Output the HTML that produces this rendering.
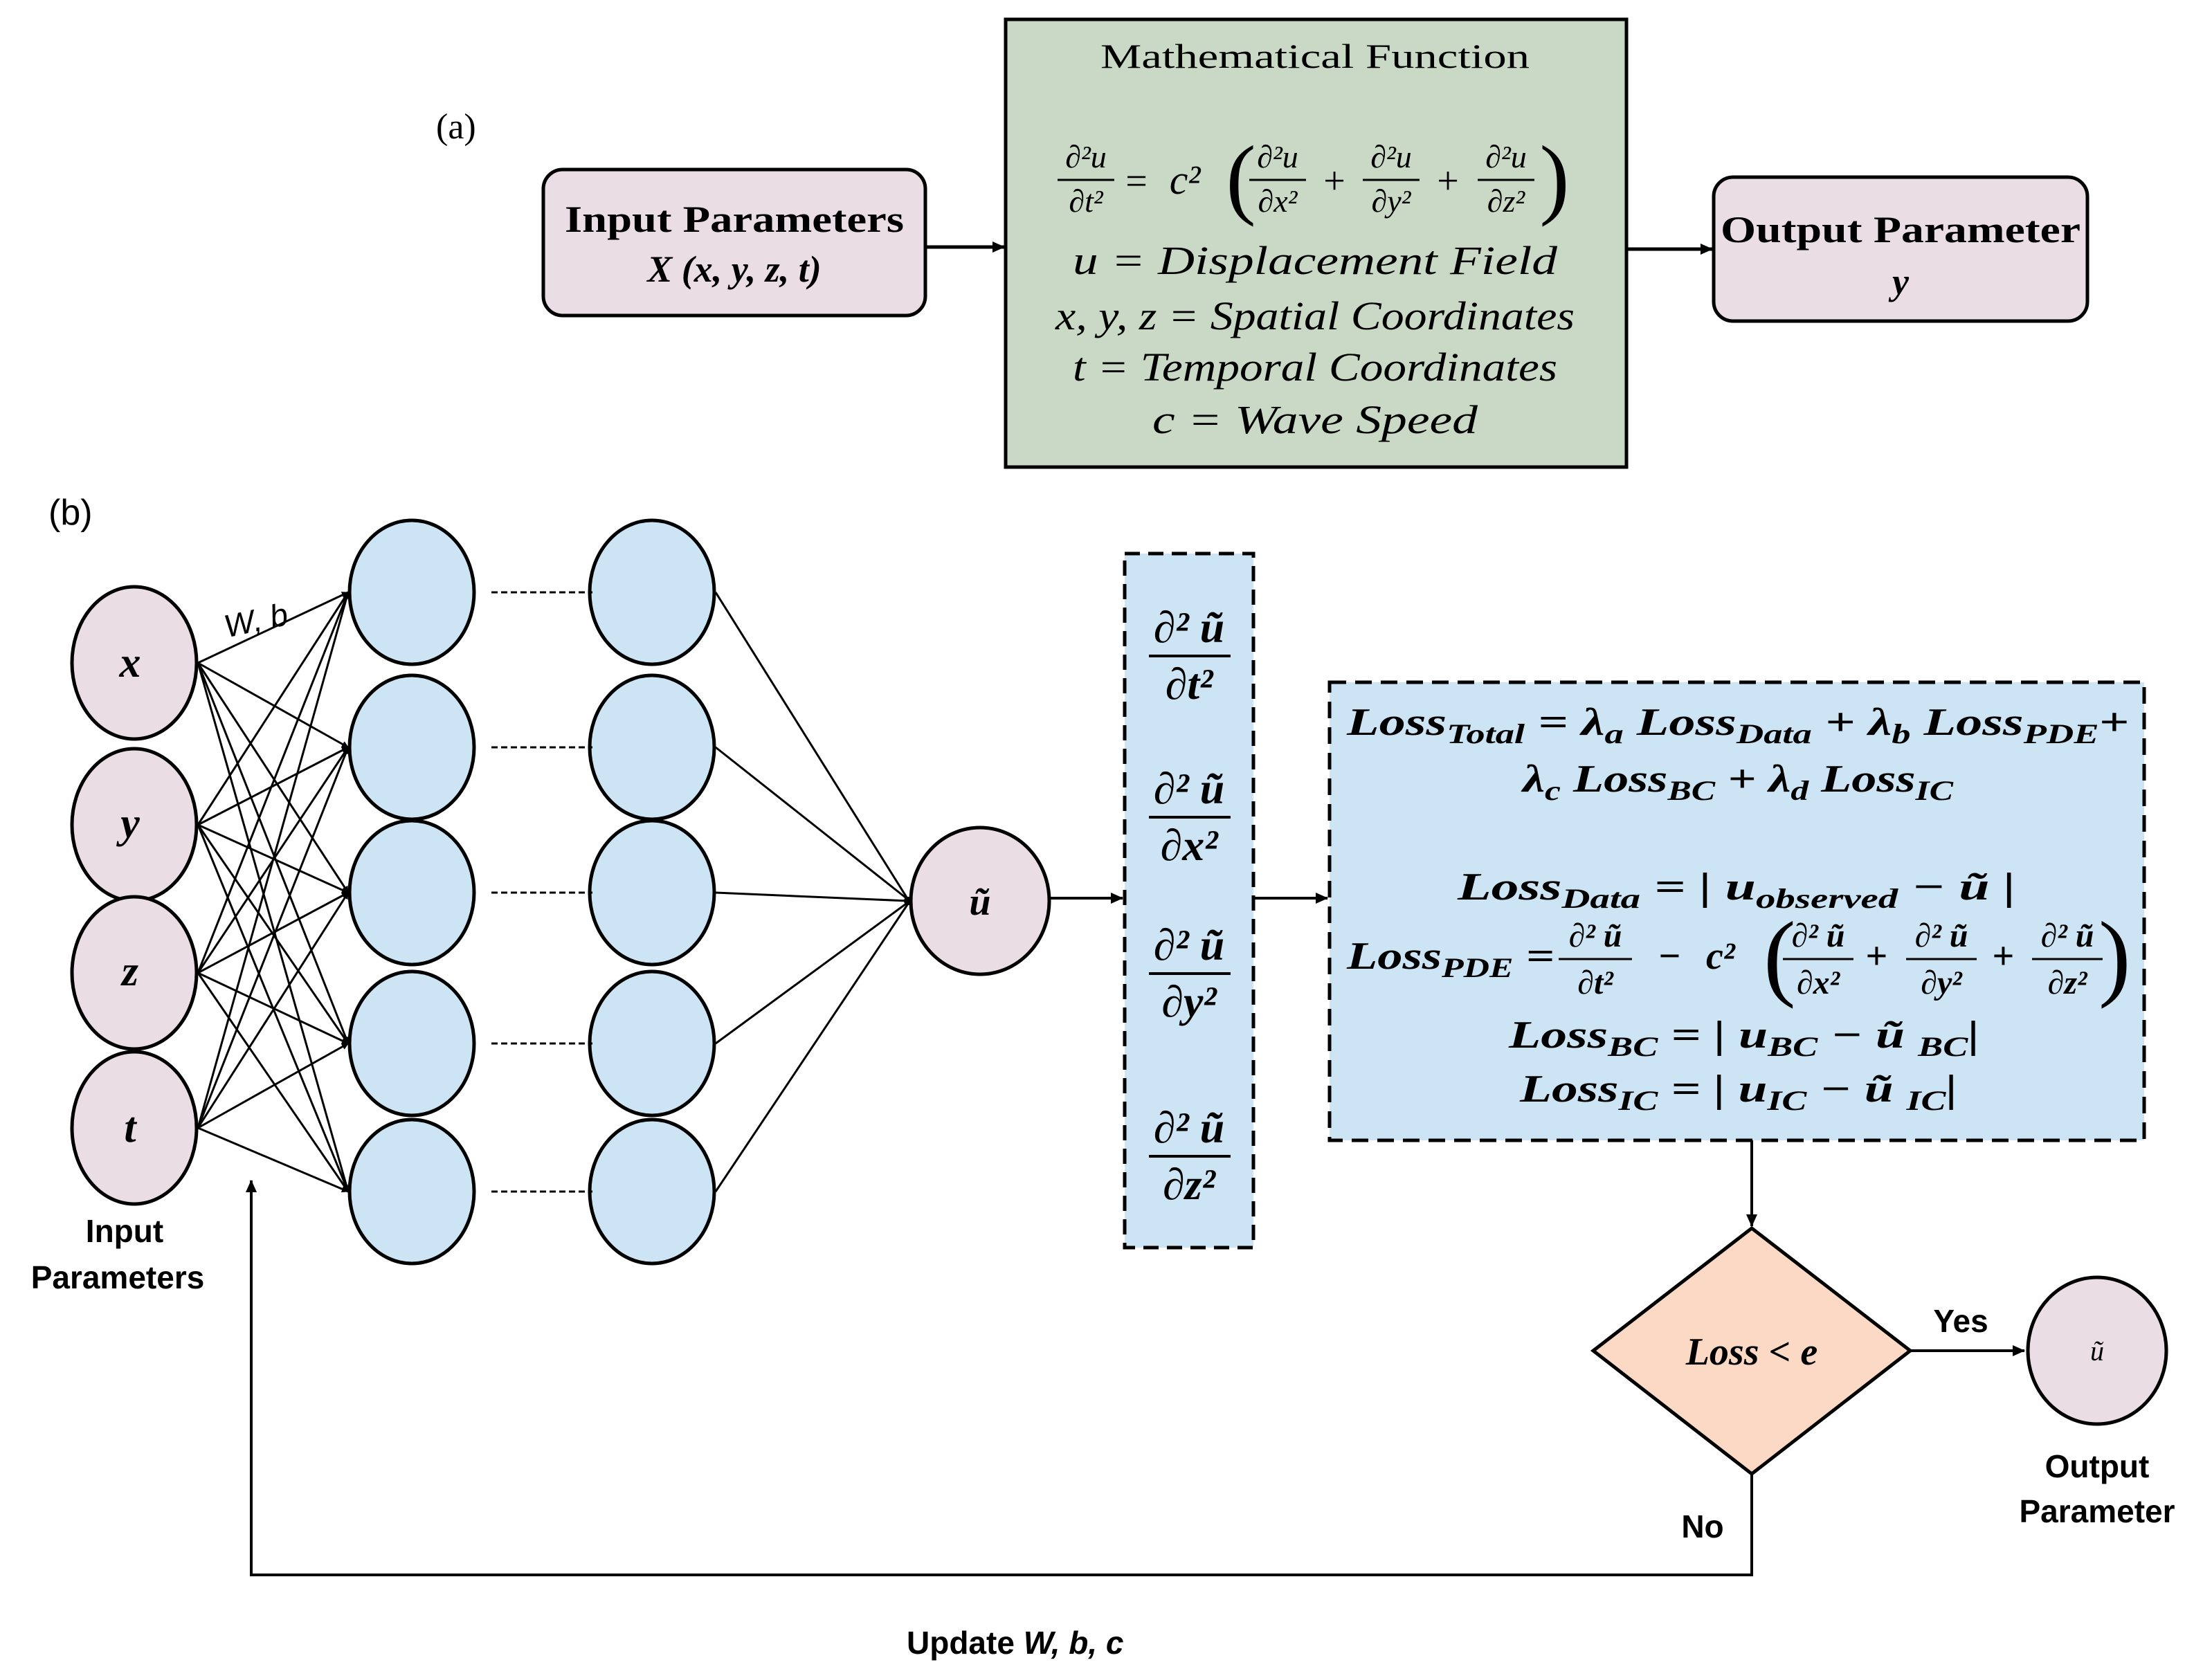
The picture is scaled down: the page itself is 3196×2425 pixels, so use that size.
<!DOCTYPE html>
<html><head><meta charset="utf-8"><style>
html,body{margin:0;padding:0;background:#fff;}
svg{display:block;}
.s{font-family:"Liberation Serif",serif;}
.m{font-family:"Liberation Serif",serif;font-style:italic;font-weight:bold;}
.a{font-family:"Liberation Sans",sans-serif;font-weight:bold;}
</style></head><body>
<svg width="3196" height="2425" viewBox="0 0 3196 2425" xmlns="http://www.w3.org/2000/svg">
<defs>
<marker id="ar" markerWidth="10" markerHeight="10" refX="9" refY="5" orient="auto" markerUnits="userSpaceOnUse"><path d="M0,0 L10,5 L0,10 z" fill="#000"/></marker>
<marker id="ab" markerWidth="18" markerHeight="16" refX="17" refY="8" orient="auto" markerUnits="userSpaceOnUse"><path d="M0,0 L18,8 L0,16 z" fill="#000"/></marker>
</defs>

<!-- (a) -->
<text x="630" y="200" class="s" font-size="52">(a)</text>
<rect x="785" y="245" width="552" height="211" rx="28" fill="#eadde3" stroke="#000" stroke-width="5"/>
<text x="1061" y="335" class="s" font-size="54" font-weight="bold" text-anchor="middle" textLength="490" lengthAdjust="spacingAndGlyphs">Input Parameters</text>
<text x="1061" y="407" class="m" font-size="54" text-anchor="middle">X (x, y, z, t)</text>

<rect x="1453" y="28" width="897" height="647" fill="#c9d9c6" stroke="#000" stroke-width="5"/>
<text x="1900" y="98" class="s" font-size="50" text-anchor="middle" textLength="620" lengthAdjust="spacingAndGlyphs">Mathematical Function</text>
<g class="s" font-style="italic" font-size="46" text-anchor="middle">
<text x="1569" y="242">∂²u</text><line x1="1528" y1="260" x2="1610" y2="260" stroke="#000" stroke-width="3"/><text x="1569" y="306">∂t²</text>
<text x="1642" y="280" font-style="normal" font-size="56">=</text>
<text x="1712" y="280" font-size="60">c²</text>
<text x="1793" y="300" font-style="normal" font-size="130">(</text>
<text x="1846" y="242">∂²u</text><line x1="1805" y1="260" x2="1887" y2="260" stroke="#000" stroke-width="3"/><text x="1846" y="306">∂x²</text>
<text x="1928" y="280" font-style="normal" font-size="56">+</text>
<text x="2010" y="242">∂²u</text><line x1="1969" y1="260" x2="2051" y2="260" stroke="#000" stroke-width="3"/><text x="2010" y="306">∂y²</text>
<text x="2092" y="280" font-style="normal" font-size="56">+</text>
<text x="2176" y="242">∂²u</text><line x1="2135" y1="260" x2="2217" y2="260" stroke="#000" stroke-width="3"/><text x="2176" y="306">∂z²</text>
<text x="2246" y="300" font-style="normal" font-size="130">)</text>
</g>
<g class="s" font-style="italic" font-size="58" text-anchor="middle">
<text x="1900" y="396" textLength="700" lengthAdjust="spacingAndGlyphs">u = Displacement Field</text>
<text x="1900" y="476" textLength="750" lengthAdjust="spacingAndGlyphs">x, y, z = Spatial Coordinates</text>
<text x="1900" y="550" textLength="700" lengthAdjust="spacingAndGlyphs">t = Temporal Coordinates</text>
<text x="1900" y="626" textLength="470" lengthAdjust="spacingAndGlyphs">c = Wave Speed</text>
</g>

<rect x="2476" y="256" width="540" height="208" rx="28" fill="#eadde3" stroke="#000" stroke-width="5"/>
<text x="2746" y="350" class="s" font-size="54" font-weight="bold" text-anchor="middle" textLength="520" lengthAdjust="spacingAndGlyphs">Output Parameter</text>
<text x="2746" y="425" class="m" font-size="54" text-anchor="middle">y</text>

<line x1="1339" y1="357" x2="1451" y2="357" stroke="#000" stroke-width="5" marker-end="url(#ab)"/>
<line x1="2352" y1="360" x2="2474" y2="360" stroke="#000" stroke-width="5" marker-end="url(#ab)"/>

<!-- (b) -->
<text x="70" y="758" style="font-family:'Liberation Sans',sans-serif;font-weight:normal" font-size="52">(b)</text>

<g stroke="#000" stroke-width="3" marker-end="url(#ar)">
<line x1="286" y1="958" x2="503" y2="856"/><line x1="286" y1="958" x2="503" y2="1080"/><line x1="286" y1="958" x2="503" y2="1290"/><line x1="286" y1="958" x2="503" y2="1508"/><line x1="286" y1="958" x2="503" y2="1722"/>
<line x1="286" y1="1192" x2="503" y2="856"/><line x1="286" y1="1192" x2="503" y2="1080"/><line x1="286" y1="1192" x2="503" y2="1290"/><line x1="286" y1="1192" x2="503" y2="1508"/><line x1="286" y1="1192" x2="503" y2="1722"/>
<line x1="286" y1="1406" x2="503" y2="856"/><line x1="286" y1="1406" x2="503" y2="1080"/><line x1="286" y1="1406" x2="503" y2="1290"/><line x1="286" y1="1406" x2="503" y2="1508"/><line x1="286" y1="1406" x2="503" y2="1722"/>
<line x1="286" y1="1630" x2="503" y2="856"/><line x1="286" y1="1630" x2="503" y2="1080"/><line x1="286" y1="1630" x2="503" y2="1290"/><line x1="286" y1="1630" x2="503" y2="1508"/><line x1="286" y1="1630" x2="503" y2="1722"/>
</g>
<g stroke="#000" stroke-width="3">
<line x1="1034" y1="856" x2="1312" y2="1300"/><line x1="1034" y1="1080" x2="1312" y2="1300"/><line x1="1034" y1="1290" x2="1312" y2="1302"/><line x1="1034" y1="1508" x2="1312" y2="1304"/><line x1="1034" y1="1722" x2="1312" y2="1306"/>
</g>
<circle cx="1312" cy="1302" r="6" fill="#000"/>
<text x="322" y="912" style="font-family:'Liberation Sans',sans-serif;font-style:italic" font-size="46" transform="rotate(-12 370 890)">W, b</text>

<g fill="#eadde3" stroke="#000" stroke-width="5">
<ellipse cx="194" cy="958" rx="90" ry="110"/><ellipse cx="194" cy="1192" rx="90" ry="110"/><ellipse cx="194" cy="1406" rx="90" ry="110"/><ellipse cx="194" cy="1630" rx="90" ry="110"/>
</g>
<g class="m" font-size="62" text-anchor="middle">
<text x="188" y="978">x</text><text x="188" y="1210">y</text><text x="188" y="1424">z</text><text x="188" y="1650">t</text>
</g>
<text x="180" y="1795" class="a" font-size="46" text-anchor="middle">Input</text>
<text x="170" y="1862" class="a" font-size="46" text-anchor="middle">Parameters</text>

<g fill="#cde4f4" stroke="#000" stroke-width="5">
<ellipse cx="595" cy="856" rx="90" ry="104"/><ellipse cx="595" cy="1080" rx="90" ry="104"/><ellipse cx="595" cy="1290" rx="90" ry="104"/><ellipse cx="595" cy="1508" rx="90" ry="104"/><ellipse cx="595" cy="1722" rx="90" ry="104"/>
<ellipse cx="942" cy="856" rx="90" ry="104"/><ellipse cx="942" cy="1080" rx="90" ry="104"/><ellipse cx="942" cy="1290" rx="90" ry="104"/><ellipse cx="942" cy="1508" rx="90" ry="104"/><ellipse cx="942" cy="1722" rx="90" ry="104"/>
</g>
<g stroke="#000" stroke-width="3" stroke-dasharray="9,5">
<line x1="710" y1="856" x2="856" y2="856"/><line x1="710" y1="1080" x2="856" y2="1080"/><line x1="710" y1="1290" x2="856" y2="1290"/><line x1="710" y1="1508" x2="856" y2="1508"/><line x1="710" y1="1722" x2="856" y2="1722"/>
</g>

<ellipse cx="1416" cy="1302" rx="100" ry="106" fill="#eadde3" stroke="#000" stroke-width="5"/>
<text x="1416" y="1322" class="m" font-size="56" text-anchor="middle">ũ</text>
<line x1="1518" y1="1298" x2="1622" y2="1298" stroke="#000" stroke-width="4" marker-end="url(#ab)"/>

<rect x="1625" y="800" width="186" height="1003" fill="#cde4f4" stroke="#000" stroke-width="5" stroke-dasharray="22,12"/>
<g class="m" font-size="64" text-anchor="middle">
<text x="1718" y="928">∂² ũ</text><line x1="1660" y1="948" x2="1778" y2="948" stroke="#000" stroke-width="4"/><text x="1718" y="1010">∂t²</text>
<text x="1718" y="1161">∂² ũ</text><line x1="1660" y1="1181" x2="1778" y2="1181" stroke="#000" stroke-width="4"/><text x="1718" y="1243">∂x²</text>
<text x="1718" y="1387">∂² ũ</text><line x1="1660" y1="1407" x2="1778" y2="1407" stroke="#000" stroke-width="4"/><text x="1718" y="1469">∂y²</text>
<text x="1718" y="1651">∂² ũ</text><line x1="1660" y1="1671" x2="1778" y2="1671" stroke="#000" stroke-width="4"/><text x="1718" y="1733">∂z²</text>
</g>
<line x1="1812" y1="1298" x2="1918" y2="1298" stroke="#000" stroke-width="4" marker-end="url(#ab)"/>

<rect x="1921" y="986" width="1177" height="662" fill="#cde4f4" stroke="#000" stroke-width="5" stroke-dasharray="24,13"/>
<g class="m" font-size="56">
<text x="1946" y="1062" textLength="1130" lengthAdjust="spacingAndGlyphs">Loss<tspan font-size="40" dy="12">Total</tspan><tspan dy="-12"> = λ</tspan><tspan font-size="40" dy="12">a</tspan><tspan dy="-12"> Loss</tspan><tspan font-size="40" dy="12">Data</tspan><tspan dy="-12">  + λ</tspan><tspan font-size="40" dy="12">b</tspan><tspan dy="-12">  Loss</tspan><tspan font-size="40" dy="12">PDE</tspan><tspan dy="-12">+</tspan></text>
<text x="2200" y="1144" textLength="622" lengthAdjust="spacingAndGlyphs">λ<tspan font-size="40" dy="12">c</tspan><tspan dy="-12"> Loss</tspan><tspan font-size="40" dy="12">BC</tspan><tspan dy="-12"> + λ</tspan><tspan font-size="40" dy="12">d</tspan><tspan dy="-12"> Loss</tspan><tspan font-size="40" dy="12">IC</tspan></text>
<text x="2106" y="1300" textLength="806" lengthAdjust="spacingAndGlyphs">Loss<tspan font-size="40" dy="12">Data</tspan><tspan dy="-12"> = | u</tspan><tspan font-size="40" dy="12">observed</tspan><tspan dy="-12">  − ũ |</tspan></text>
<text x="1946" y="1400" textLength="300" lengthAdjust="spacingAndGlyphs">Loss<tspan font-size="40" dy="12">PDE</tspan><tspan dy="-12"> =</tspan></text>
<text x="2395" y="1400">−</text>
<text x="2465" y="1400">c²</text>
<text x="2548" y="1428" font-style="normal" font-weight="normal" font-size="140">(</text>
<text x="3032" y="1428" font-style="normal" font-weight="normal" font-size="140">)</text>
<text x="2695" y="1400">+</text>
<text x="2878" y="1400">+</text>
<text x="2180" y="1514" textLength="680" lengthAdjust="spacingAndGlyphs">Loss<tspan font-size="40" dy="12">BC</tspan><tspan dy="-12"> = | u</tspan><tspan font-size="40" dy="12">BC</tspan><tspan dy="-12">  − ũ </tspan><tspan font-size="40" dy="12">BC</tspan><tspan dy="-12">|</tspan></text>
<text x="2196" y="1592" textLength="632" lengthAdjust="spacingAndGlyphs">Loss<tspan font-size="40" dy="12">IC</tspan><tspan dy="-12"> = | u</tspan><tspan font-size="40" dy="12">IC</tspan><tspan dy="-12">  − ũ </tspan><tspan font-size="40" dy="12">IC</tspan><tspan dy="-12">|</tspan></text>
</g>
<g class="m" font-size="48" text-anchor="middle">
<text x="2305" y="1368">∂² ũ</text><line x1="2252" y1="1386" x2="2358" y2="1386" stroke="#000" stroke-width="3"/><text x="2305" y="1436">∂t²</text>
<text x="2627" y="1368">∂² ũ</text><line x1="2576" y1="1386" x2="2678" y2="1386" stroke="#000" stroke-width="3"/><text x="2627" y="1436">∂x²</text>
<text x="2805" y="1368">∂² ũ</text><line x1="2754" y1="1386" x2="2856" y2="1386" stroke="#000" stroke-width="3"/><text x="2805" y="1436">∂y²</text>
<text x="2987" y="1368">∂² ũ</text><line x1="2936" y1="1386" x2="3038" y2="1386" stroke="#000" stroke-width="3"/><text x="2987" y="1436">∂z²</text>
</g>

<line x1="2531" y1="1648" x2="2531" y2="1772" stroke="#000" stroke-width="4" marker-end="url(#ab)"/>
<polygon points="2531,1775 2760,1952 2531,2130 2302,1952" fill="#fbd9c5" stroke="#000" stroke-width="5"/>
<text x="2531" y="1972" class="m" font-size="56" text-anchor="middle">Loss &lt; e</text>
<line x1="2760" y1="1952" x2="2925" y2="1952" stroke="#000" stroke-width="4" marker-end="url(#ab)"/>
<text x="2833" y="1925" class="a" font-size="46" text-anchor="middle">Yes</text>
<ellipse cx="3030" cy="1952" rx="100" ry="106" fill="#eadde3" stroke="#000" stroke-width="5"/>
<text x="3030" y="1966" class="s" font-style="italic" font-size="40" text-anchor="middle">ũ</text>
<text x="3030" y="2135" class="a" font-size="46" text-anchor="middle">Output</text>
<text x="3030" y="2200" class="a" font-size="46" text-anchor="middle">Parameter</text>
<text x="2460" y="2222" class="a" font-size="46" text-anchor="middle">No</text>

<polyline points="2531,2130 2531,2276 363,2276 363,1706" fill="none" stroke="#000" stroke-width="4" marker-end="url(#ab)"/>
<text x="1310" y="2390" class="a" font-size="46">Update <tspan style="font-style:italic">W, b, c</tspan></text>
</svg>
</body></html>
